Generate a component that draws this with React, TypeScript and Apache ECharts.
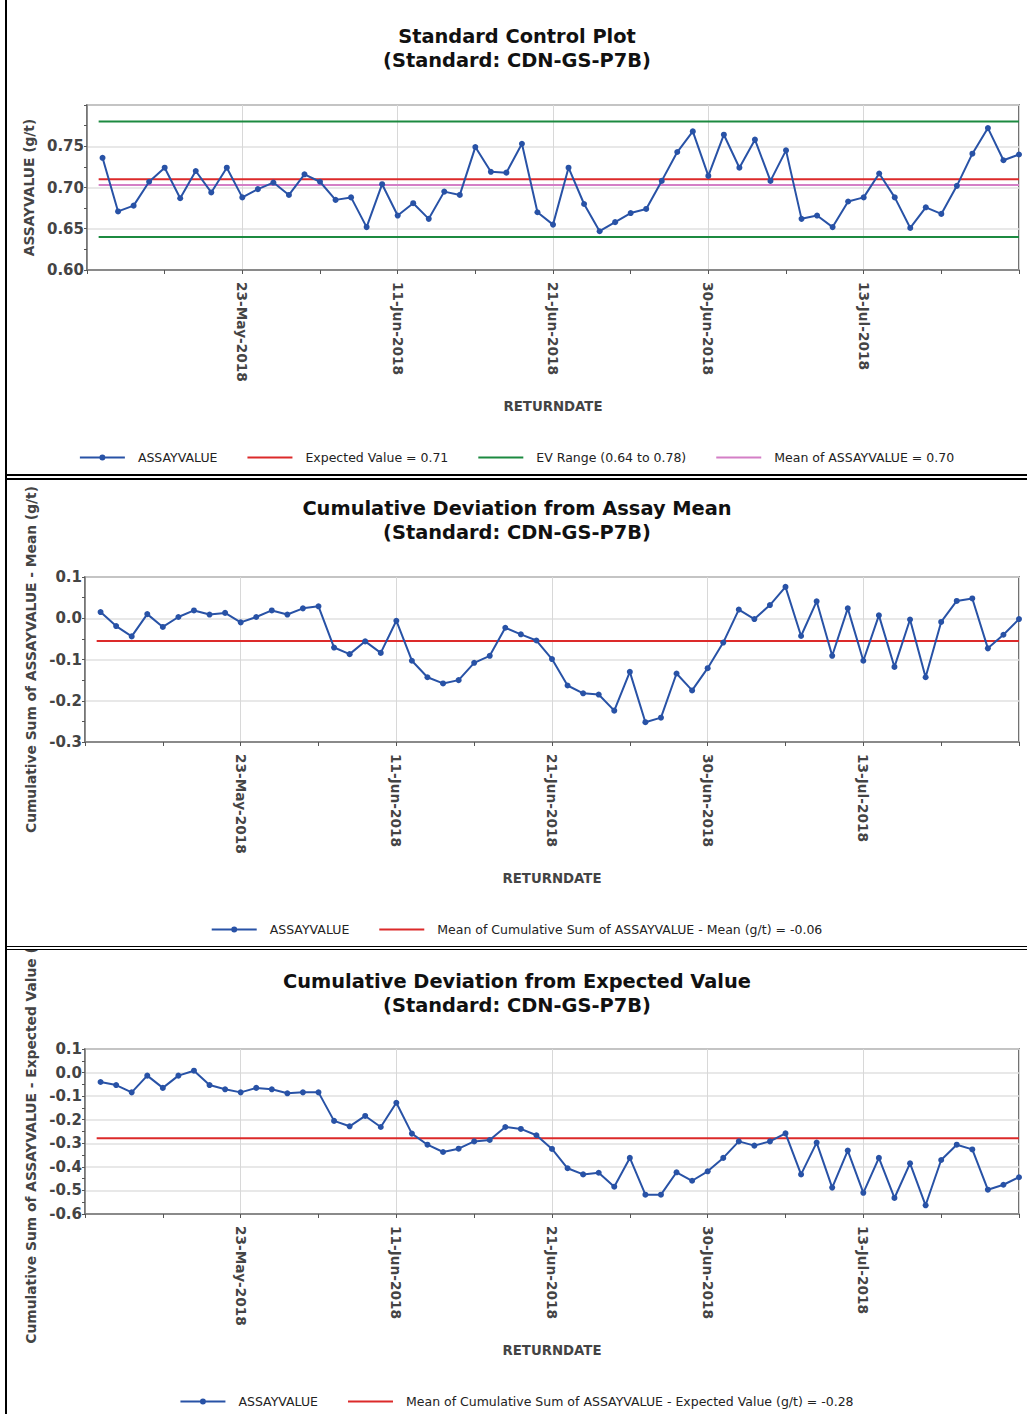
import React, { useEffect, useRef } from 'react';
import * as echarts from 'echarts';

// ---------- data ----------
const TICK_INDICES = [9, 19, 29, 39, 49];
const TICK_LABELS = ['23-May-2018', '11-Jun-2018', '21-Jun-2018', '30-Jun-2018', '13-Jul-2018'];

const ASSAY_VALUES = [
  0.736, 0.671, 0.678, 0.707, 0.724, 0.687, 0.720, 0.694, 0.724, 0.688,
  0.698, 0.706, 0.691, 0.716, 0.707, 0.685, 0.688, 0.652, 0.704, 0.666,
  0.681, 0.662, 0.695, 0.691, 0.749, 0.719, 0.718, 0.753, 0.670, 0.655,
  0.724, 0.680, 0.647, 0.658, 0.669, 0.674, 0.708, 0.743, 0.768, 0.714,
  0.764, 0.724, 0.758, 0.708, 0.745, 0.662, 0.666, 0.652, 0.683, 0.688,
  0.717, 0.688, 0.651, 0.676, 0.668, 0.702, 0.741, 0.772, 0.733, 0.740,
];

const CUSUM_MEAN_VALUES = [
  0.015, -0.019, -0.044, 0.010, -0.021, 0.003, 0.019, 0.009, 0.013, -0.010,
  0.003, 0.019, 0.009, 0.024, 0.029, -0.071, -0.087, -0.056, -0.084, -0.006,
  -0.103, -0.143, -0.158, -0.150, -0.108, -0.091, -0.023, -0.039, -0.054, -0.099,
  -0.163, -0.182, -0.185, -0.224, -0.130, -0.252, -0.241, -0.134, -0.175, -0.121,
  -0.059, 0.021, -0.002, 0.032, 0.076, -0.043, 0.041, -0.091, 0.024, -0.103,
  0.007, -0.118, -0.003, -0.143, -0.009, 0.042, 0.048, -0.073, -0.040, -0.002,
];

const CUSUM_EXPECTED_VALUES = [
  -0.040, -0.053, -0.084, -0.013, -0.065, -0.013, 0.008, -0.053, -0.071, -0.084,
  -0.065, -0.071, -0.088, -0.084, -0.084, -0.205, -0.228, -0.184, -0.231, -0.128,
  -0.259, -0.306, -0.337, -0.323, -0.292, -0.286, -0.231, -0.239, -0.266, -0.324,
  -0.406, -0.432, -0.425, -0.484, -0.362, -0.518, -0.518, -0.423, -0.459, -0.419,
  -0.362, -0.292, -0.310, -0.292, -0.258, -0.432, -0.297, -0.488, -0.331, -0.510,
  -0.362, -0.532, -0.385, -0.563, -0.371, -0.306, -0.326, -0.497, -0.476, -0.444,
];

const EXPECTED_VALUE = 0.71;
const EV_LOW = 0.64;
const EV_HIGH = 0.78;
const ASSAY_MEAN = 0.703;
const CUSUM_MEAN_MEAN = -0.055;
const CUSUM_EXPECTED_MEAN = -0.279;

// x extent of the reference lines (in point-index units)
const REF_X = [-0.25, 59];

// ---------- styles ----------
const FONT = "'DejaVu Sans', Verdana, sans-serif";
const BLUE = '#2852a6';
const RED = '#dc2a2a';
const GREEN = '#1c8a40';
const PINK = '#d47fc6';

const ICON_LINE = 'path://M0,0 L45,0 L45,2 L0,2 Z';
const ICON_POINT = 'path://M0,2 L45,2 L45,4 L0,4 Z M19.5,3 A3,3 0 1,1 25.5,3 A3,3 0 1,1 19.5,3 Z';

function pointSeries(name: string, values: number[]) {
  return {
    name,
    type: 'line',
    data: values.map((v, i) => [i, v]),
    symbol: 'circle',
    symbolSize: 6,
    showSymbol: true,
    lineStyle: { color: BLUE, width: 2 },
    itemStyle: { color: BLUE },
    z: 5,
    silent: true,
  };
}

function refSeries(name: string, value: number, color: string) {
  return {
    name,
    type: 'line',
    data: REF_X.map((x) => [x, value]),
    symbol: 'none',
    showSymbol: false,
    lineStyle: { color, width: 2 },
    itemStyle: { color },
    z: 3,
    silent: true,
  };
}

type PanelCfg = {
  title: string;
  titleTop: number;
  yName: string;
  yNameGap: number;
  yMin: number;
  yMax: number;
  yInterval: number;
  decimals: number;
  hideMax: boolean;
  gridLeft: number;
  gridTop: number;
  gridBottom: number;
  legendTop: number;
  legend: any[];
  series: any[];
};

function makeOption(cfg: PanelCfg) {
  return {
    animation: false,
    textStyle: { fontFamily: FONT },
    title: {
      text: cfg.title,
      left: 'center',
      top: cfg.titleTop,
      padding: [0, 0, 0, 4],
      textStyle: { fontFamily: FONT, fontWeight: 'bold', fontSize: 19.4, lineHeight: 24, color: '#111' },
    },
    legend: {
      top: cfg.legendTop,
      left: 'center',
      padding: 0,
      itemWidth: 45,
      itemHeight: 14,
      itemGap: 30,
      selectedMode: false,
      itemStyle: { borderWidth: 0 },
      textStyle: { fontFamily: FONT, fontSize: 12.5, color: '#222', padding: [0, 0, 0, 8] },
      data: cfg.legend,
    },
    grid: {
      left: cfg.gridLeft,
      right: 8,
      top: cfg.gridTop,
      bottom: cfg.gridBottom,
      show: true,
      borderColor: '#444',
      borderWidth: 1.5,
      containLabel: false,
      outerBoundsMode: 'none',
    },
    xAxis: {
      type: 'value',
      min: -1,
      max: 59,
      interval: 10,
      name: 'RETURNDATE',
      nameLocation: 'middle',
      nameGap: 130,
      nameTextStyle: { fontFamily: FONT, fontWeight: 'bold', fontSize: 13.3, color: '#444' },
      axisLine: { show: true, onZero: false, lineStyle: { color: '#777', width: 1.5 } },
      axisTick: { show: true, length: 4, lineStyle: { color: '#555' } },
      minorTick: { show: true, splitNumber: 2, length: 4, lineStyle: { color: '#555' } },
      axisLabel: {
        rotate: -90,
        margin: 12,
        fontFamily: FONT,
        fontWeight: 'bold',
        fontSize: 13.7,
        color: '#444',
        showMinLabel: true,
        showMaxLabel: true,
        formatter: (v: number) => {
          const k = TICK_INDICES.indexOf(Math.round(v));
          return k >= 0 ? TICK_LABELS[k] : '';
        },
      },
      splitLine: { show: true, lineStyle: { color: '#d8d8d8', width: 1 } },
    },
    yAxis: {
      type: 'value',
      min: cfg.yMin,
      max: cfg.yMax,
      interval: cfg.yInterval,
      name: cfg.yName,
      nameLocation: 'middle',
      nameGap: cfg.yNameGap,
      nameTextStyle: { fontFamily: FONT, fontWeight: 'bold', fontSize: 13.8, color: '#444' },
      axisLine: { show: true, onZero: false, lineStyle: { color: '#777', width: 1.5 } },
      axisTick: { show: true, length: 3, lineStyle: { color: '#555' } },
      minorTick: { show: true, splitNumber: 2, length: 3, lineStyle: { color: '#555' } },
      axisLabel: {
        margin: 3,
        fontFamily: FONT,
        fontWeight: 'bold',
        fontSize: 15,
        color: '#444',
        showMaxLabel: true,
        formatter: (v: number) => {
          if (cfg.hideMax && v > cfg.yMax - 1e-9) return '';
          const c = Math.abs(v) < 1e-9 ? 0 : v;
          return c.toFixed(cfg.decimals);
        },
      },
      splitLine: { show: true, lineStyle: { color: '#e0e0e0', width: 1.5 } },
    },
    series: cfg.series,
  };
}

const PANEL1: PanelCfg = {
  title: 'Standard Control Plot\n(Standard: CDN-GS-P7B)',
  titleTop: 24,
  yName: 'ASSAYVALUE (g/t)',
  yNameGap: 42,
  yMin: 0.6,
  yMax: 0.8,
  yInterval: 0.05,
  decimals: 2,
  hideMax: true,
  gridLeft: 80,
  gridTop: 105,
  gridBottom: 204,
  legendTop: 451,
  legend: [
    { name: 'ASSAYVALUE', icon: ICON_POINT },
    { name: 'Expected Value = 0.71', icon: ICON_LINE },
    { name: 'EV Range (0.64 to 0.78)', icon: ICON_LINE },
    { name: 'Mean of ASSAYVALUE = 0.70', icon: ICON_LINE },
  ],
  series: [
    refSeries('Expected Value = 0.71', EXPECTED_VALUE, RED),
    refSeries('EV Range (0.64 to 0.78)', EV_HIGH, GREEN),
    refSeries('EV Range (0.64 to 0.78)', EV_LOW, GREEN),
    refSeries('Mean of ASSAYVALUE = 0.70', ASSAY_MEAN, PINK),
    pointSeries('ASSAYVALUE', ASSAY_VALUES),
  ],
};

const PANEL2: PanelCfg = {
  title: 'Cumulative Deviation from Assay Mean\n(Standard: CDN-GS-P7B)',
  titleTop: 17,
  yName: 'Cumulative Sum of ASSAYVALUE - Mean (g/t)',
  yNameGap: 40,
  yMin: -0.3,
  yMax: 0.1,
  yInterval: 0.1,
  decimals: 1,
  hideMax: false,
  gridLeft: 78,
  gridTop: 98,
  gridBottom: 204,
  legendTop: 444,
  legend: [
    { name: 'ASSAYVALUE', icon: ICON_POINT },
    { name: 'Mean of Cumulative Sum of ASSAYVALUE - Mean (g/t) = -0.06', icon: ICON_LINE },
  ],
  series: [
    refSeries('Mean of Cumulative Sum of ASSAYVALUE - Mean (g/t) = -0.06', CUSUM_MEAN_MEAN, RED),
    pointSeries('ASSAYVALUE', CUSUM_MEAN_VALUES),
  ],
};

const PANEL3: PanelCfg = {
  title: 'Cumulative Deviation from Expected Value\n(Standard: CDN-GS-P7B)',
  titleTop: 19,
  yName: 'Cumulative Sum of ASSAYVALUE - Expected Value (g/t)',
  yNameGap: 40,
  yMin: -0.6,
  yMax: 0.1,
  yInterval: 0.1,
  decimals: 1,
  hideMax: false,
  gridLeft: 78,
  gridTop: 99,
  gridBottom: 200,
  legendTop: 445,
  legend: [
    { name: 'ASSAYVALUE', icon: ICON_POINT },
    { name: 'Mean of Cumulative Sum of ASSAYVALUE - Expected Value (g/t) = -0.28', icon: ICON_LINE },
  ],
  series: [
    refSeries('Mean of Cumulative Sum of ASSAYVALUE - Expected Value (g/t) = -0.28', CUSUM_EXPECTED_MEAN, RED),
    pointSeries('ASSAYVALUE', CUSUM_EXPECTED_VALUES),
  ],
};

function Panel({ cfg, top, height }: { cfg: PanelCfg; top: number; height: number }) {
  const ref = useRef<HTMLDivElement>(null);
  useEffect(() => {
    const chart = echarts.init(ref.current as HTMLDivElement, null, { renderer: 'svg' });
    chart.setOption(makeOption(cfg) as any);
    return () => chart.dispose();
  }, [cfg]);
  return (
    <div
      ref={ref}
      style={{ position: 'absolute', left: 7, top, width: 1020, height, overflow: 'hidden' }}
    />
  );
}

const lineStyle = (s: React.CSSProperties): React.CSSProperties => ({
  position: 'absolute',
  background: '#000',
  ...s,
});

export default function App() {
  return (
    <div
      style={{
        position: 'absolute',
        left: 0,
        top: 0,
        width: 1027,
        height: 1414,
        background: '#fff',
        overflow: 'hidden',
      }}
    >
      <Panel cfg={PANEL1} top={0} height={474} />
      <Panel cfg={PANEL2} top={479} height={467} />
      <Panel cfg={PANEL3} top={950} height={464} />
      <div style={lineStyle({ left: 5, top: 0, width: 2, height: 1414 })} />
      <div style={lineStyle({ left: 5, top: 474, width: 1022, height: 2 })} />
      <div style={lineStyle({ left: 5, top: 478, width: 1022, height: 1.5 })} />
      <div style={lineStyle({ left: 5, top: 945.5, width: 1022, height: 1.5 })} />
      <div style={lineStyle({ left: 5, top: 948.5, width: 1022, height: 1.5 })} />
    </div>
  );
}
